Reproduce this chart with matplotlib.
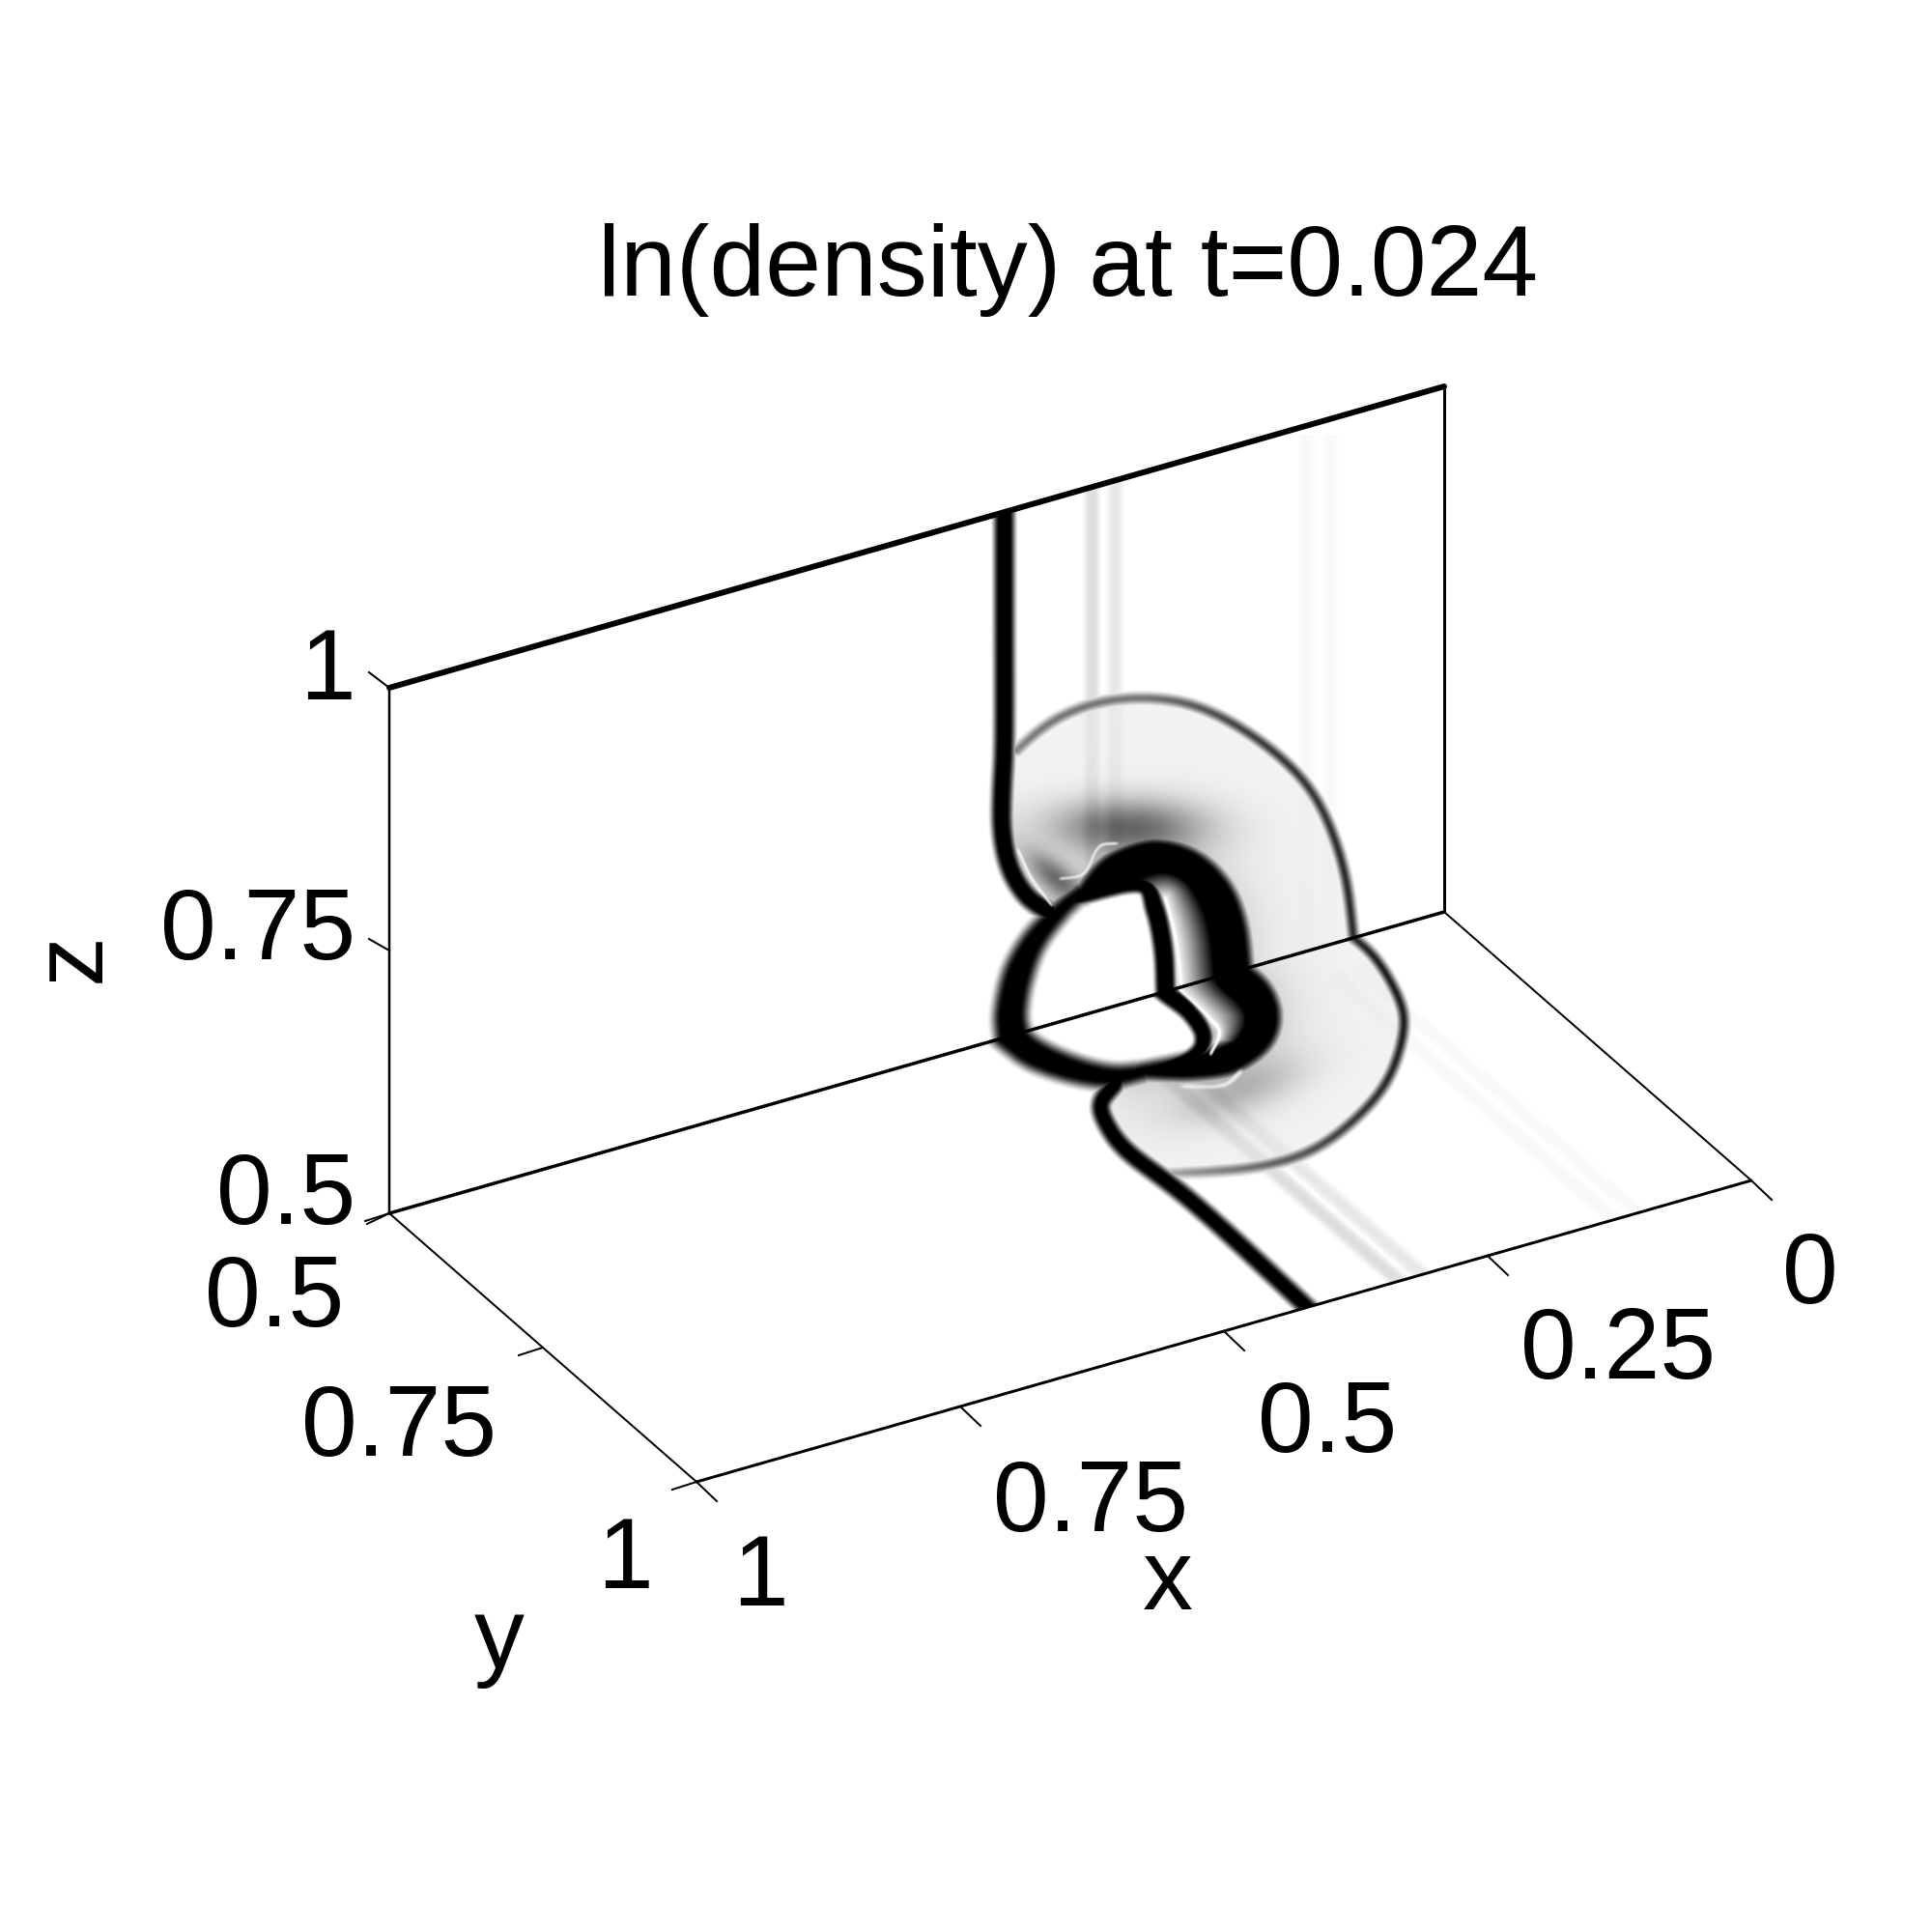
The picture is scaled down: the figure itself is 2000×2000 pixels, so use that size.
import numpy as np
import matplotlib
matplotlib.use('Agg')
import matplotlib.pyplot as plt
from matplotlib.path import Path

plt.rcParams['font.family'] = ['Liberation Sans', 'DejaVu Sans']

TITLE = 'ln(density) at t=0.024'
X_TICKS = [0, 0.25, 0.5, 0.75, 1]
Y_TICKS = [0.5, 0.75, 1]
Z_TICKS = [0.5, 0.75, 1]
X_TICK_LABELS = ['0', '0.25', '0.5', '0.75', '1']
Y_TICK_LABELS = ['0.5', '0.75', '1']
Z_TICK_LABELS = ['0.5', '0.75', '1']

# fronts on the wall slice y=0.5 as (x, z)
wall_main_x = [.417, .417, .417, .419, .419, .412, .396, .375]
wall_main_z = [.997, .899, .782, .737, .698, .661, .629, .608]
wall_bow_x = [.405, .374, .332, .286, .240, .194, .148, .117, .096, .089, .086]
wall_bow_z = [.770, .788, .794, .786, .767, .732, .684, .636, .574, .529, .500]
wall_band_x = [.343, .316, .277, .241, .214, .201, .197, .196]
wall_band_z = [.615, .633, .634, .615, .581, .544, .510, .500]
wall_inner_x = [.349, .289, .274, .266, .264]
wall_inner_z = [.613, .609, .581, .540, .500]
wall_ring_x = [.345, .362, .388, .404, .411, .409]
wall_ring_z = [.617, .607, .585, .556, .522, .500]
wall_glint_x = [.264, .254, .249]
wall_glint_z = [.589, .546, .502]
wall_glint2_x = [.404, .391, .372]
wall_glint2_z = [.675, .644, .613]
wall_glint3_x = [.364, .341, .328, .310]
wall_glint3_z = [.636, .634, .656, .654]

# fronts on the floor slice z=0.5 as (x, y)
floor_main_x = [.369, .377, .401, .414, .423, .416, .421]
floor_main_y = [.600, .611, .629, .660, .712, .801, 1.0]
floor_bow_x = [.086, .086, .103, .125, .175, .227, .288, .337, .373, .405, .417]
floor_bow_y = [.500, .537, .605, .650, .712, .752, .783, .784, .773, .759, .752]
floor_band_x = [.349, .311, .275, .238, .212, .199, .199]
floor_band_y = [.601, .615, .619, .604, .574, .537, .502]
floor_inner_x = [.265, .264, .274, .300, .347]
floor_inner_y = [.502, .539, .579, .602, .603]
floor_ring_x = [.411, .409, .394, .373, .347]
floor_ring_y = [.502, .535, .572, .597, .604]
floor_glint_x = [.252, .254, .259, .283]
floor_glint_y = [.501, .550, .579, .606]
floor_glint2_x = [.330, .300, .275]
floor_glint2_y = [.640, .655, .642]

# faint streaks, same x on both slices
streak_x = [.334, .312, .130, .108]
streak_dark = [.13, .09, .03, .025]

PX = 72 / 200.
X0, X1, Y0, Y1 = 900, 1850, 450, 1400
gx, gy = np.meshgrid(np.arange(X0, X1) + .5, np.arange(Y0, Y1) + .5)
grid_pts = np.column_stack([gx.ravel(), gy.ravel()])


def project(x, y, z):
    u = 1 - np.asarray(x, dtype=float)
    v = (np.asarray(y, dtype=float) - .5) * 2
    w = (np.asarray(z, dtype=float) - .5) * 2
    return 403 + 1092 * u + 318 * v, 1256 - 312 * u + 278 * v - 544 * w


def smooth(a, b, n=14, relax=0):
    # catmull-rom through the read points, just for drawing
    p = np.column_stack([a, b])
    p = np.vstack([2 * p[0] - p[1], p, 2 * p[-1] - p[-2]])
    out = []
    for i in range(1, len(p) - 2):
        for t in np.linspace(0, 1, n, endpoint=False):
            out.append(.5 * (2 * p[i] + (p[i + 1] - p[i - 1]) * t
                             + (2 * p[i - 1] - 5 * p[i] + 4 * p[i + 1] - p[i + 2]) * t ** 2
                             + (3 * p[i] - p[i - 1] - 3 * p[i + 1] + p[i + 2]) * t ** 3))
    out.append(p[-2])
    c = np.array(out)
    # takes the wobble of hand read points out
    for _ in range(relax):
        c[1:-1] = (c[:-2] + c[1:-1] + c[2:]) / 3
    return c


def on_wall(a, b, relax=0):
    c = smooth(a, b, relax=relax)
    return np.column_stack(project(c[:, 0], .5, c[:, 1]))


def on_floor(a, b, relax=0):
    c = smooth(a, b, relax=relax)
    return np.column_stack(project(c[:, 0], c[:, 1], .5))


def mask_of(pts):
    return Path(pts).contains_points(grid_pts).reshape(gx.shape)


def seg_dist(p, q, r):
    # distance to one segment, only inside its bounding box plus r
    i0 = max(int(min(p[0], q[0]) - r) - X0, 0)
    i1 = min(int(max(p[0], q[0]) + r) - X0 + 1, gx.shape[1])
    j0 = max(int(min(p[1], q[1]) - r) - Y0, 0)
    j1 = min(int(max(p[1], q[1]) + r) - Y0 + 1, gx.shape[0])
    if i0 >= i1 or j0 >= j1:
        return None, None
    sl = (slice(j0, j1), slice(i0, i1))
    d = q - p
    t = ((gx[sl] - p[0]) * d[0] + (gy[sl] - p[1]) * d[1]) / max(d @ d, 1e-9)
    t = np.clip(t, 0, 1)
    return sl, np.hypot(gx[sl] - p[0] - t * d[0], gy[sl] - p[1] - t * d[1])


def dist_to(pts, r=200):
    out = np.full(gx.shape, 1e4)
    for p, q in zip(pts[:-1], pts[1:]):
        sl, d = seg_dist(p, q, r)
        if sl is not None:
            out[sl] = np.minimum(out[sl], d)
    return out


def extended(pts, start, end):
    if start:
        s = pts[0] - pts[1]
        pts = np.vstack([pts[0] + s / np.hypot(*s) * 40, pts])
    if end:
        s = pts[-1] - pts[-2]
        pts = np.vstack([pts, pts[-1] + s / np.hypot(*s) * 40])
    return pts


def ink(canvas, pts, half, dark, blur, start=False, end=False, light=False):
    # half and dark are given at evenly spaced stations along the curve
    pos = np.linspace(0, 1, len(pts) - 1)
    hs = np.interp(pos, np.linspace(0, 1, len(half)), half)
    ds = np.interp(pos, np.linspace(0, 1, len(dark)), dark)
    full = extended(pts, start, end)
    off = 1 if start else 0
    for k, (p, q) in enumerate(zip(full[:-1], full[1:])):
        j = int(np.clip(k - off, 0, len(hs) - 1))
        sl, d = seg_dist(p, q, hs[j] + blur + 1)
        if sl is None:
            continue
        s = np.clip((hs[j] + blur - d) / (2 * blur), 0, 1)
        s = s * s * (3 - 2 * s)
        if light:
            canvas[sl] = canvas[sl] * (1 - ds[j] * s)
        else:
            canvas[sl] = np.maximum(canvas[sl], ds[j] * s)


def spot(px, py, sx, sy, amp, ang=0.):
    c, s = np.cos(ang), np.sin(ang)
    a = (gx - px) * c + (gy - py) * s
    b = -(gx - px) * s + (gy - py) * c
    return amp * np.exp(-.5 * ((a / sx) ** 2 + (b / sy) ** 2))


main_w = on_wall(wall_main_x, wall_main_z, relax=12)
bow_w = on_wall(wall_bow_x, wall_bow_z, relax=40)
band_w = on_wall(wall_band_x, wall_band_z, relax=10)
inner_w = on_wall(wall_inner_x, wall_inner_z, relax=3)
ring_w = on_wall(wall_ring_x, wall_ring_z, relax=6)
glint_w = on_wall(wall_glint_x, wall_glint_z)
glint2_w = on_wall(wall_glint2_x, wall_glint2_z)
glint3_w = on_wall(wall_glint3_x, wall_glint3_z, relax=10)

main_f = on_floor(floor_main_x, floor_main_y, relax=25)
bow_f = on_floor(floor_bow_x, floor_bow_y, relax=40)
band_f = on_floor(floor_band_x, floor_band_y, relax=10)
inner_f = on_floor(floor_inner_x, floor_inner_y, relax=3)
ring_f = on_floor(floor_ring_x, floor_ring_y, relax=6)
glint_f = on_floor(floor_glint_x, floor_glint_y)
glint2_f = on_floor(floor_glint2_x, floor_glint2_y, relax=6)

wall_xs, wall_ys = project([1, 0, 0, 1], .5, [.5, .5, 1, 1])
floor_xs, floor_ys = project([1, 0, 0, 1], [.5, .5, 1, 1], .5)
wall_mask = mask_of(np.column_stack([wall_xs, wall_ys]))
floor_mask = mask_of(np.column_stack([floor_xs, floor_ys]))

#### WALL ####
W = np.zeros(gx.shape)
for sx, sd in zip(streak_x, streak_dark):
    ink(W, np.column_stack(project([sx, sx], .5, [.5, 1])), [7], [sd], 5)
body = mask_of(np.vstack([bow_w, ring_w[::-1], main_w[::-1]]))
db = dist_to(band_w)
dm = dist_to(main_w, 60)
shade = .05 + .17 * np.exp(-db / 28.)
shade = shade + spot(1168, 856, 55, 20, .5) + spot(1092, 908, 26, 11, .45, .7)
shade = shade + .10 * np.exp(-dm / 22.) * np.clip((gy - 800) / 80, 0, 1)
above_bow = gy < np.interp(gx, bow_w[:, 0], bow_w[:, 1]) - 1
shade[(gx < bow_w[0, 0] + 3) & (gy < bow_w[0, 1])] = 0
W[body] = (.4 * W + shade)[body]
gap = mask_of(np.vstack([band_w, inner_w[::-1]]))
dg = dist_to(glint_w, 200)
t = np.clip(dg / (dg + db + 1e-3) / .6, 0, 1)
W[gap] = (.06 + .94 * t ** 1.15)[gap]
W[mask_of(np.vstack([ring_w[::-1], inner_w]))] = 0
ink(W, bow_w, [4.5], [.5, .55, .55, .55, .65, .75, .8, .8, .85, .85, .85], 5, end=True)
ink(W, band_w, [9, 14, 17, 16, 16, 16, 16, 16], [1], 7, end=True)
ink(W, inner_w, [7, 8, 10, 10, 10], [1], 4, end=True)
ink(W, ring_w, [9, 10, 13, 16, 17, 18], [1], 8, end=True)
ink(W, main_w, [10], [1], 5, start=True)
for g, dk, h in [(glint_w, .98, .8), (glint2_w, .85, .7), (glint3_w, .55, .8)]:
    ink(W, g, [h], [dk], 2.2, light=True)

#### FLOOR ####
F = np.zeros(gx.shape)
for sx, sd in zip(streak_x, streak_dark):
    ink(F, np.column_stack(project([sx, sx], [.55, 1], .5)), [7], [sd], 5)
body = mask_of(np.vstack([bow_f, main_f[:int(len(main_f) * .72)][::-1], ring_f[::-1]]))
db = dist_to(band_f)
shade = .05 + .2 * np.exp(-db / 28.) + spot(1285, 1128, 48, 18, .2, -.35)
F[body] = (.5 * F + shade)[body]
gap = mask_of(np.vstack([band_f, inner_f]))
dg = dist_to(glint_f, 200)
t = np.clip(dg / (dg + db + 1e-3) / .6, 0, 1)
F[gap] = (.06 + .94 * t ** 1.15)[gap]
F[mask_of(np.vstack([ring_f, inner_f[::-1]]))] = 0
ink(F, bow_f, [4.5], [.85, .9, .9, .9, .85, .8, .7, .6, .5, .38, .25], 5, start=True)
ink(F, band_f, [8, 14, 18, 17, 16, 16, 16], [1], 7, end=True)
ink(F, inner_f, [10, 9, 9, 7, 5], [1], 4, start=True)
ink(F, ring_f, [17, 16, 14, 12, 9], [1], 8, start=True)
ink(F, main_f, [9], [1], 5, end=True)
ink(F, glint_f, [.8], [.98], 2.2, light=True)
ink(F, glint2_f, [1.2], [.5], 3, light=True)

img = np.zeros(gx.shape)
img[wall_mask] = W[wall_mask]
img[floor_mask] = F[floor_mask]

fig = plt.figure(figsize=(10, 10), dpi=200)
ax = fig.add_axes([0, 0, 1, 1])
ax.imshow(1 - img, cmap='gray', vmin=0, vmax=1, extent=(X0, X1, Y1, Y0),
          interpolation='bilinear', aspect='auto', zorder=1)
ax.set_xlim(0, 2000)
ax.set_ylim(2000, 0)
ax.axis('off')


# box
def edge(p0, p1, lw):
    xs, ys = project([p0[0], p1[0]], [p0[1], p1[1]], [p0[2], p1[2]])
    ax.plot(xs, ys, color='k', lw=lw * PX, solid_capstyle='round', zorder=3)


edge((1, .5, 1), (0, .5, 1), 6)
edge((1, .5, .5), (1, .5, 1), 2.5)
edge((0, .5, .5), (0, .5, 1), 3)
edge((1, .5, .5), (0, .5, .5), 3.5)
edge((1, .5, .5), (1, 1, .5), 2)
edge((0, .5, .5), (0, 1, .5), 2)
edge((1, 1, .5), (0, 1, .5), 3)

# ticks
for t in X_TICKS:
    xs, ys = project(t, 1, .5)
    ax.plot([xs, xs + 21], [ys, ys + 20], color='k', lw=2 * PX)
for t in Y_TICKS:
    xs, ys = project(1, t, .5)
    ax.plot([xs, xs - 25], [ys, ys + 8], color='k', lw=2 * PX)
for t, dx, dy in zip(Z_TICKS, [-23, -21, -21], [11, -12, -16]):
    xs, ys = project(1, .5, t)
    ax.plot([xs, xs + dx], [ys, ys + dy], color='k', lw=2 * PX)

fs = 37.4
ax.text(1106, 280, TITLE, fontsize=fs, ha='center', va='center')
for s, px, py in zip(X_TICK_LABELS, [1874, 1675, 1374, 1129, 787], [1322, 1401, 1477, 1559, 1636]):
    ax.text(px, py, s, fontsize=fs, ha='center', va='center')
for s, px, py in zip(Y_TICK_LABELS, [284, 413, 647], [1347, 1481, 1618]):
    ax.text(px, py, s, fontsize=fs, ha='center', va='center')
for s, px, py in zip(Z_TICK_LABELS, [368, 368, 368], [1240, 967, 698]):
    ax.text(px, py, s, fontsize=fs, ha='right', va='center')
ax.text(1209, 1640, 'x', fontsize=fs, ha='center', va='center')
ax.text(517, 1699, 'y', fontsize=fs, ha='center', va='center')
ax.text(76, 991, 'z', fontsize=fs, ha='center', va='center', rotation=90)

fig.savefig('out.png', dpi=200)
